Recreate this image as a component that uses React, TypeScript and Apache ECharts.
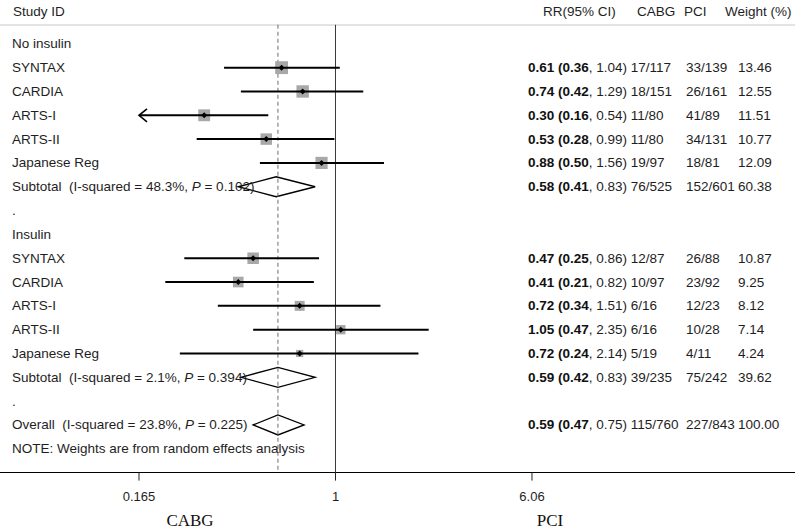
import React, { useEffect, useRef } from 'react';
import * as echarts from 'echarts';

// ---------- data ----------
const groupNames = ['No insulin', 'Insulin'];
const studies = ['SYNTAX', 'CARDIA', 'ARTS-I', 'ARTS-II', 'Japanese Reg'];

const noInsRR = [0.61, 0.74, 0.30, 0.53, 0.88];
const noInsLo = [0.36, 0.42, 0.16, 0.28, 0.50];
const noInsHi = [1.04, 1.29, 0.54, 0.99, 1.56];
const noInsCABG = ['17/117', '18/151', '11/80', '11/80', '19/97'];
const noInsPCI = ['33/139', '26/161', '41/89', '34/131', '18/81'];
const noInsWeight = [13.46, 12.55, 11.51, 10.77, 12.09];

const insRR = [0.47, 0.41, 0.72, 1.05, 0.72];
const insLo = [0.25, 0.21, 0.34, 0.47, 0.24];
const insHi = [0.86, 0.82, 1.51, 2.35, 2.14];
const insCABG = ['12/87', '10/97', '6/16', '6/16', '5/19'];
const insPCI = ['26/88', '23/92', '12/23', '10/28', '4/11'];
const insWeight = [10.87, 9.25, 8.12, 7.14, 4.24];

const subRR = [0.58, 0.59];
const subLo = [0.41, 0.42];
const subHi = [0.83, 0.83];
const subCABG = ['76/525', '39/235'];
const subPCI = ['152/601', '75/242'];
const subWeight = [60.38, 39.62];
const subI2 = [48.3, 2.1];
const subP = [0.102, 0.394];

const overallRR = 0.59;
const overallLo = 0.47;
const overallHi = 0.75;
const overallCABG = '115/760';
const overallPCI = '227/843';
const overallWeight = 100.0;
const overallI2 = 23.8;
const overallP = 0.225;

const tickValues = [0.165, 1, 6.06];
const headers = ['Study ID', 'RR(95% CI)', 'CABG', 'PCI', 'Weight (%)'];
const noteText = 'NOTE: Weights are from random effects analysis';
const favourLabels = ['CABG', 'PCI'];

// ---------- layout ----------
const W = 795;
const H = 530;
const X_MIN = 0.04613;
const X_MAX = 67.6;
const Y_MIN = -1;
const Y_MAX = 18;
const SEP_ROW = -0.8;
const FONT = '"Liberation Sans", Arial, Helvetica, sans-serif';
const TXT = '#1e1e1e';
const LEFT_SIZE = 13.5;
const clipMin = tickValues[0];
const clipMax = tickValues[tickValues.length - 1];

type RowText = { row: number; left: string; rr?: string; pci?: string; weight?: string };

function rrRich(rr: number, lo: number, hi: number, cabg: string) {
  return `{b|${rr.toFixed(2)} (${lo.toFixed(2)}}{n|, ${hi.toFixed(2)}) ${cabg}}`;
}
function hetRich(name: string, i2: number, p: number) {
  return `{n|${name}  (I-squared = ${i2.toFixed(1)}%, }{i|P}{n| = ${p.toFixed(3)})}`;
}

const studyData: number[][] = [];
const diamondData: number[][] = [];
const rowTexts: RowText[] = [];

const groupsRR = [noInsRR, insRR];
const groupsLo = [noInsLo, insLo];
const groupsHi = [noInsHi, insHi];
const groupsCABG = [noInsCABG, insCABG];
const groupsPCI = [noInsPCI, insPCI];
const groupsW = [noInsWeight, insWeight];

let r = 0;
for (let g = 0; g < 2; g++) {
  rowTexts.push({ row: r, left: `{n|${groupNames[g]}}` });
  r++;
  for (let s = 0; s < studies.length; s++) {
    studyData.push([groupsRR[g][s], groupsLo[g][s], groupsHi[g][s], groupsW[g][s], r]);
    rowTexts.push({
      row: r,
      left: `{n|${studies[s]}}`,
      rr: rrRich(groupsRR[g][s], groupsLo[g][s], groupsHi[g][s], groupsCABG[g][s]),
      pci: groupsPCI[g][s],
      weight: groupsW[g][s].toFixed(2),
    });
    r++;
  }
  diamondData.push([subRR[g], subLo[g], subHi[g], r]);
  rowTexts.push({
    row: r,
    left: hetRich('Subtotal', subI2[g], subP[g]),
    rr: rrRich(subRR[g], subLo[g], subHi[g], subCABG[g]),
    pci: subPCI[g],
    weight: subWeight[g].toFixed(2),
  });
  r++;
  rowTexts.push({ row: r, left: '{n|.}' });
  r++;
}
diamondData.push([overallRR, overallLo, overallHi, r]);
rowTexts.push({
  row: r,
  left: hetRich('Overall', overallI2, overallP),
  rr: rrRich(overallRR, overallLo, overallHi, overallCABG),
  pci: overallPCI,
  weight: overallWeight.toFixed(2),
});
r++;
rowTexts.push({ row: r, left: `{n|${noteText}}` });

const leftRich = {
  n: { fontSize: LEFT_SIZE, fontFamily: FONT, fill: TXT },
  i: { fontSize: LEFT_SIZE, fontFamily: FONT, fontStyle: 'italic', fill: TXT },
};
const rrRichStyle = {
  b: { fontSize: 13.5, fontFamily: FONT, fontWeight: 'bold', fill: '#111' },
  n: { fontSize: 13.5, fontFamily: FONT, fill: TXT },
};

function textEl(x: number, y: number, text: string, rich: any, size = 13, align = 'left') {
  return {
    type: 'text',
    x,
    y,
    style: {
      text,
      rich,
      fontSize: size,
      fontFamily: FONT,
      fill: TXT,
      align,
      verticalAlign: 'middle',
      textAlign: align,
      textVerticalAlign: 'middle',
    },
  };
}

function headerText(x: number, text: string) {
  return {
    type: 'text',
    x,
    y: 11,
    style: { text, fontSize: LEFT_SIZE, fontFamily: FONT, fill: TXT, textVerticalAlign: 'middle', verticalAlign: 'middle' },
  };
}

export default function App() {
  const ref = useRef<HTMLDivElement>(null);
  useEffect(() => {
    if (!ref.current) return;
    const chart = echarts.init(ref.current, undefined, { renderer: 'svg' });
    const serif = '"Liberation Serif", "Times New Roman", serif';
    const option: any = {
      animation: false,
      backgroundColor: '#fff',
      grid: { left: 0, right: 0, top: 20, bottom: 57.4 },
      xAxis: {
        type: 'log',
        min: X_MIN,
        max: X_MAX,
        position: 'bottom',
        axisLine: { show: true, onZero: false, lineStyle: { color: '#000', width: 1 } },
        axisTick: { show: false },
        axisLabel: { show: false },
        splitLine: { show: false },
      },
      yAxis: {
        type: 'value',
        inverse: true,
        min: Y_MIN,
        max: Y_MAX,
        show: false,
        splitLine: { show: false },
      },
      graphic: [
        headerText(13, headers[0]),
        headerText(543, headers[1]),
        headerText(637, headers[2]),
        headerText(684, headers[3]),
        headerText(725, headers[4]),
        { type: 'line', shape: { x1: 0, y1: 25, x2: W, y2: 25 }, style: { stroke: '#c8c8c8', lineWidth: 1 } },
        { type: 'text', x: 190, y: 520, style: { text: favourLabels[0], fontSize: 17, fontFamily: serif, fill: '#111', textAlign: 'center', align: 'center', textVerticalAlign: 'middle', verticalAlign: 'middle' } },
        { type: 'text', x: 550, y: 520, style: { text: favourLabels[1], fontSize: 17, fontFamily: serif, fill: '#111', textAlign: 'center', align: 'center', textVerticalAlign: 'middle', verticalAlign: 'middle' } },
      ],
      series: [
        {
          name: 'diamonds',
          type: 'custom',
          z: 2,
          data: diamondData,
          encode: { x: 0, y: 3 },
          renderItem: (_p: any, api: any) => {
            const row = api.value(3);
            const c = api.coord([api.value(0), row]);
            const l = api.coord([api.value(1), row]);
            const h = api.coord([api.value(2), row]);
            return {
              type: 'polygon',
              shape: { points: [[l[0], c[1]], [c[0], c[1] - 10], [h[0], c[1]], [c[0], c[1] + 10]] },
              style: { fill: 'none', stroke: '#000', lineWidth: 1.3 },
            };
          },
        },
        {
          name: 'refLines',
          type: 'custom',
          z: 3,
          data: [[1, 0], [overallRR, 1]],
          encode: { x: 0 },
          renderItem: (_p: any, api: any) => {
            const v = api.value(0);
            const top = api.coord([v, SEP_ROW]);
            const bot = api.coord([v, Y_MAX]);
            const dashed = api.value(1) === 1;
            return {
              type: 'line',
              shape: { x1: top[0], y1: top[1], x2: bot[0], y2: bot[1] },
              style: dashed
                ? { stroke: '#6e6e6e', lineWidth: 1, lineDash: [4, 3] }
                : { stroke: '#3a3a3a', lineWidth: 1 },
            };
          },
        },
        {
          name: 'studies',
          type: 'custom',
          z: 4,
          data: studyData,
          encode: { x: 0, y: 4 },
          renderItem: (_p: any, api: any) => {
            const rr = api.value(0);
            const lo = api.value(1);
            const hi = api.value(2);
            const w = api.value(3);
            const row = api.value(4);
            const c = api.coord([rr, row]);
            const pl = api.coord([Math.max(lo, clipMin), row]);
            const ph = api.coord([Math.min(hi, clipMax), row]);
            const side = 3.5 * Math.sqrt(w);
            const children: any[] = [
              {
                type: 'rect',
                shape: { x: c[0] - side / 2, y: c[1] - side / 2, width: side, height: side },
                style: { fill: '#a8a8a8' },
              },
              {
                type: 'line',
                shape: { x1: pl[0], y1: c[1], x2: ph[0], y2: c[1] },
                style: { stroke: '#000', lineWidth: 2 },
              },
              {
                type: 'polygon',
                shape: { points: [[c[0] - 3, c[1]], [c[0], c[1] - 3], [c[0] + 3, c[1]], [c[0], c[1] + 3]] },
                style: { fill: '#000' },
              },
            ];
            if (lo < clipMin) {
              children.push({
                type: 'polyline',
                shape: { points: [[pl[0] + 8, c[1] - 6.5], [pl[0], c[1]], [pl[0] + 8, c[1] + 6.5]] },
                style: { stroke: '#000', lineWidth: 1.6, fill: 'none' },
              });
            }
            if (hi > clipMax) {
              children.push({
                type: 'polyline',
                shape: { points: [[ph[0] - 8, c[1] - 6.5], [ph[0], c[1]], [ph[0] - 8, c[1] + 6.5]] },
                style: { stroke: '#000', lineWidth: 1.6, fill: 'none' },
              });
            }
            return { type: 'group', children };
          },
        },
        {
          name: 'rowTexts',
          type: 'custom',
          z: 5,
          data: rowTexts.map((t, i) => [1, t.row, i]),
          encode: { x: 0, y: 1 },
          renderItem: (_p: any, api: any) => {
            const t = rowTexts[api.value(2)];
            const c = api.coord([1, t.row]);
            const y = c[1];
            const children: any[] = [textEl(12, y, t.left, leftRich, LEFT_SIZE)];
            if (t.rr) children.push(textEl(528, y, t.rr, rrRichStyle, 13.5));
            if (t.pci) children.push(textEl(686, y, t.pci, undefined, 13.5));
            if (t.weight) children.push(textEl(738, y, t.weight, undefined, 13.5));
            return { type: 'group', children };
          },
        },
        {
          name: 'ticks',
          type: 'custom',
          z: 5,
          data: tickValues.map((v) => [v, Y_MAX]),
          encode: { x: 0, y: 1 },
          renderItem: (_p: any, api: any) => {
            const v = api.value(0);
            const c = api.coord([v, Y_MAX]);
            return {
              type: 'group',
              children: [
                { type: 'line', shape: { x1: c[0], y1: c[1], x2: c[0], y2: c[1] + 8 }, style: { stroke: '#222', lineWidth: 1 } },
                textEl(c[0], c[1] + 24, String(v), undefined, 13, 'center'),
              ],
            };
          },
        },
      ],
    };
    chart.setOption(option);
    return () => chart.dispose();
  }, []);
  return (
    <div
      ref={ref}
      style={{ position: 'absolute', left: 0, top: 0, width: W, height: H, background: '#fff' }}
    />
  );
}
